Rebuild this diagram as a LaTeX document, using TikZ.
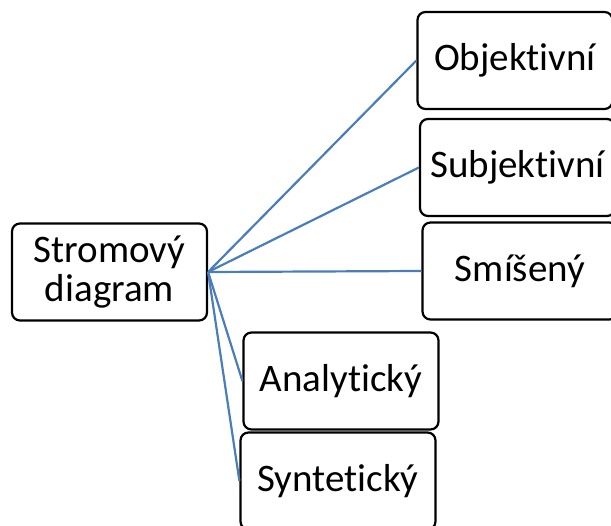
\documentclass[tikz,border=0pt]{standalone}
\usepackage{fontspec}
\setmainfont[Ligatures={NoCommon}]{Carlito}
\begin{document}
\begin{tikzpicture}[x=1pt,y=-1pt,
  box/.style={draw=black,line width=2.2pt,rounded corners=8pt,minimum width=195pt,minimum height=97pt,inner sep=0pt,align=center,font=\fontsize{39}{39}\selectfont},
  conn/.style={draw={rgb,255:red,74;green,126;blue,187},line width=2.2pt}]
\useasboundingbox (0,0) rectangle (611,526);
\node[box] (root) at (109.5,272) {Stromový\\diagram};
\node[box] (obj) at (515,60.5) {Objektivní};
\node[box] (sub) at (517.5,167.5) {Subjektivní};
\node[box] (smi) at (520,271) {Smíšený};
\node[box] (ana) at (341,381) {Analytický};
\node[box] (syn) at (338,481) {Syntetický};
\foreach \t in {obj,sub,smi,ana,syn} \draw[conn] (root.east) -- (\t.west);
\end{tikzpicture}
\end{document}
